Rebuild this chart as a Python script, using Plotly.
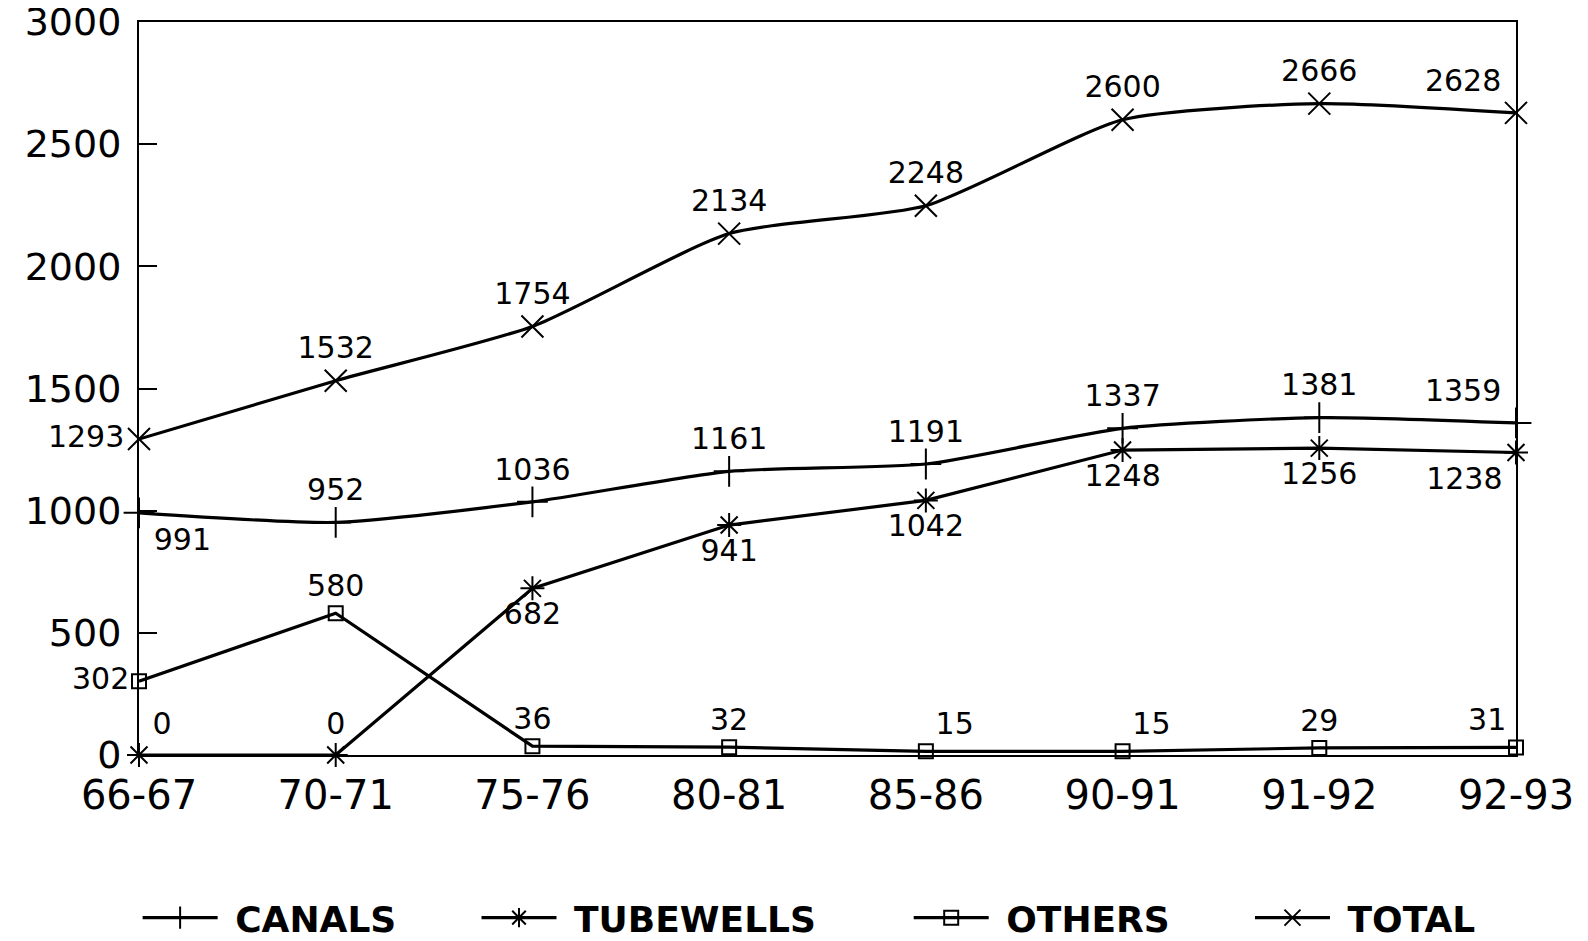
import plotly.graph_objects as go

years = ["66-67", "70-71", "75-76", "80-81", "85-86", "90-91", "91-92", "92-93"]
canals = [991, 952, 1036, 1161, 1191, 1337, 1381, 1359]
tubewells = [0, 0, 682, 941, 1042, 1248, 1256, 1238]
others = [302, 580, 36, 32, 15, 15, 29, 31]
total = [1293, 1532, 1754, 2134, 2248, 2600, 2666, 2628]

num_font = dict(family="DejaVu Sans", size=30, color="black")
nb = "\u00a0"

fig = go.Figure()

def add_series(name, vals, symbol, msize, shape, pos, trail=6):
    fig.add_trace(go.Scatter(
        x=years, y=vals, name=nb + name + nb * trail, mode="lines+markers+text",
        line=dict(color="black", width=3.2, shape=shape, smoothing=0.6),
        marker=dict(symbol=symbol, size=msize, color="black",
                    line=dict(color="black", width=2)),
        text=[str(v) for v in vals], textposition=pos, textfont=num_font,
        cliponaxis=False,
    ))

add_series("CANALS", canals, "cross-thin-open", 22, "spline",
           ["bottom right", "top center", "top center", "top center",
            "top center", "top center", "top center", "top left"])
add_series("TUBEWELLS", tubewells, "asterisk-open", 20, "linear",
           ["top right", "top center", "bottom center", "bottom center",
            "bottom center", "bottom center", "bottom center", "bottom left"], trail=7)
add_series("OTHERS", others, "square-open", 14, "linear",
           ["middle left", "top center", "top center", "top center",
            "top right", "top right", "top center", "top left"])
add_series("TOTAL", total, "x-thin-open", 22, "spline",
           ["middle left", "top center", "top center", "top center",
            "top center", "top center", "top center", "top left"])

# page body adds an 8px offset, margins compensate for it
fig.update_layout(
    width=1588, height=941,
    margin=dict(l=131, r=80, t=14, b=194, autoexpand=False),
    plot_bgcolor="white", paper_bgcolor="white",
    font=dict(family="DejaVu Sans", color="black"),
    showlegend=True,
    legend=dict(orientation="h", x=-0.001, xanchor="left", y=-0.222, yanchor="middle",
                font=dict(family="DejaVu Sans", size=36, color="black", weight="bold"),
                itemwidth=75),
)
fig.update_xaxes(type="category", range=[0, 7], showline=True, linecolor="black",
                 linewidth=2, mirror=True, ticks="", showgrid=False, automargin=False,
                 ticklabeloverflow="allow",
                 tickfont=dict(size=40, family="DejaVu Sans"), ticklabelstandoff=4)
fig.update_yaxes(range=[0, 3000], dtick=500, showline=True, linecolor="black",
                 linewidth=2, mirror=True, ticks="inside", ticklen=18, tickwidth=2,
                 tickcolor="black", showgrid=False, zeroline=False, automargin=False,
                 ticklabeloverflow="allow",
                 tickfont=dict(size=38, family="DejaVu Sans"), ticklabelstandoff=8)

fig.write_html("out.html")
